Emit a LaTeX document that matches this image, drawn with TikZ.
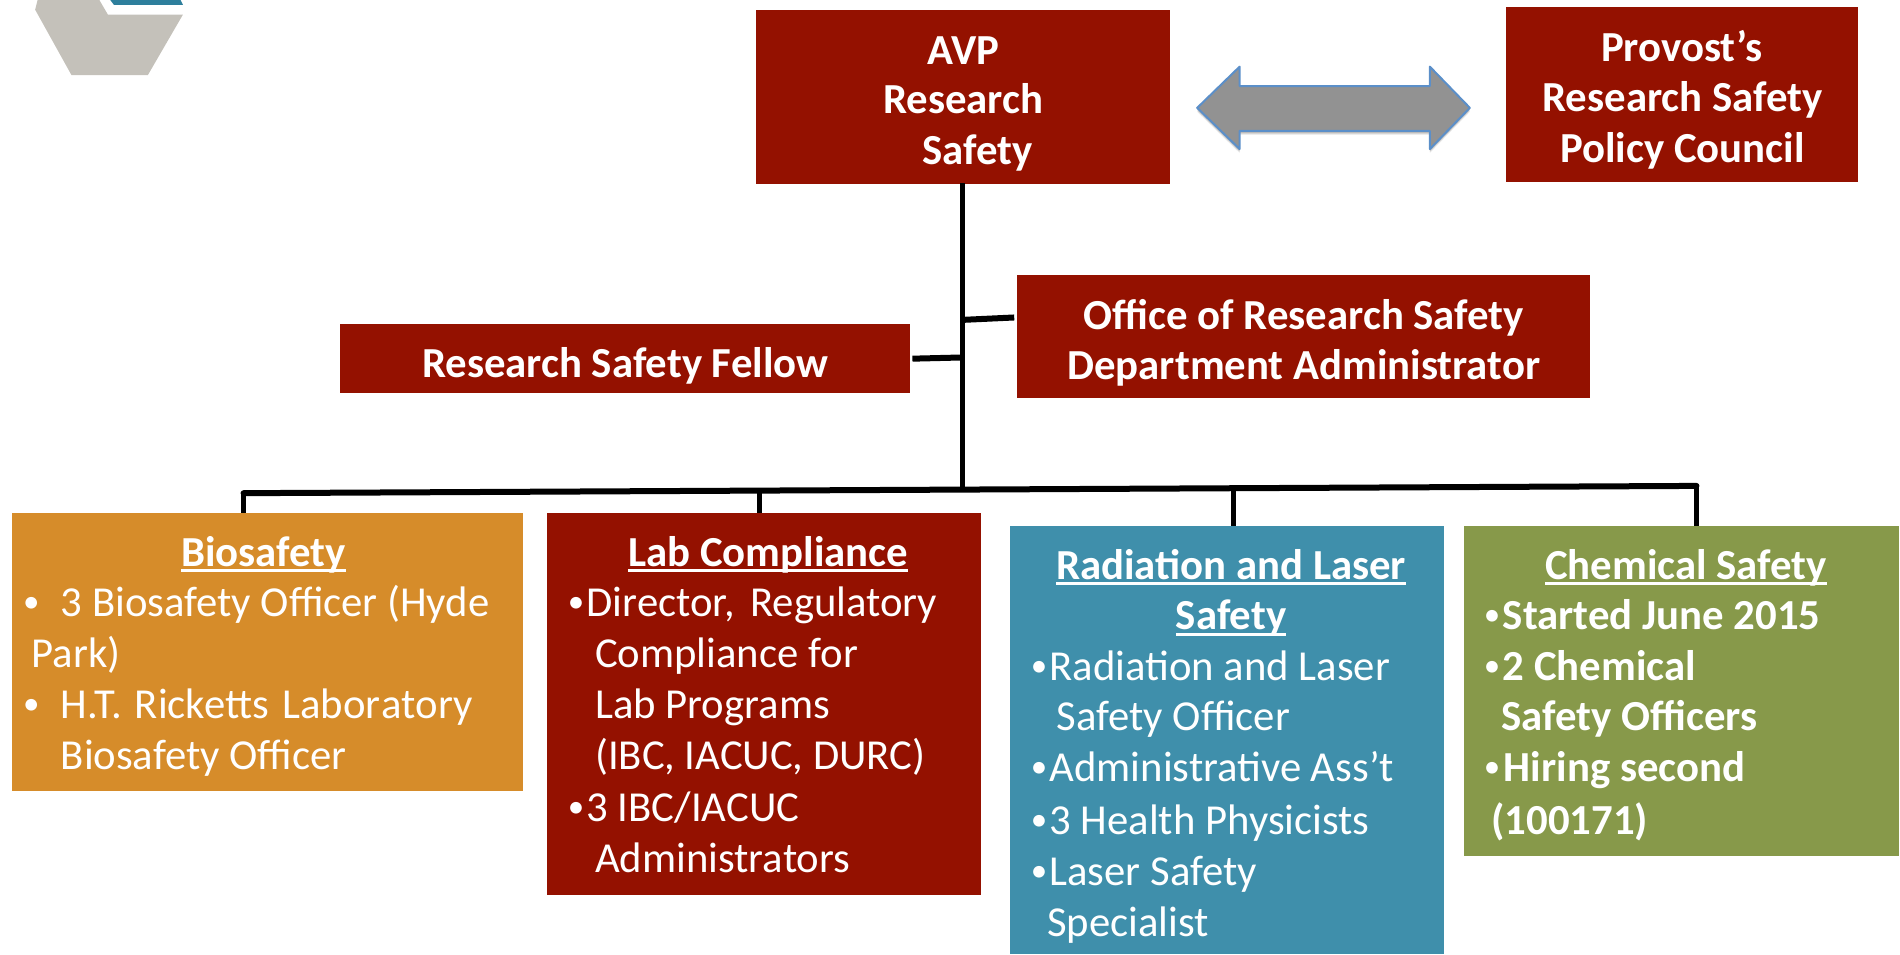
\documentclass[tikz,border=0pt]{standalone}
\usepackage{fontspec}
\setmainfont{Carlito}
\definecolor{crimson}{HTML}{941100}
\definecolor{amber}{HTML}{D68C2A}
\definecolor{teal}{HTML}{3F8FAB}
\definecolor{olive}{HTML}{87994A}
\definecolor{stone}{HTML}{C4C1BA}
\definecolor{logoblue}{HTML}{2E7F9C}
\definecolor{arrowgrey}{HTML}{929292}
\definecolor{arrowedge}{HTML}{5B8FC9}
\newsavebox{\ulbox}
\newcommand{\ult}[1]{\sbox{\ulbox}{#1}\rlap{\rule[-0.135em]{\wd\ulbox}{0.07em}}\usebox{\ulbox}}
\tikzset{
  panel/.style={fill=#1,draw=none},
  link/.style={line width=5pt,black,line cap=butt},
  txt/.style={text=white,inner sep=0pt,yshift=-1pt,font=\fontsize{42.7}{50}\selectfont},
  ctr/.style={txt,anchor=base},
  lft/.style={txt,anchor=base west},
  bctr/.style={ctr,font=\fontsize{42.8}{50}\selectfont\bfseries},
  blft/.style={lft,font=\fontsize{42.8}{50}\selectfont\bfseries},
  bul/.style={lft,font=\fontsize{33}{40}\selectfont,yshift=4.3pt},
}
\begin{document}
\begin{tikzpicture}[x=1.2117pt,y=-1.2117pt]
\useasboundingbox (0,0) rectangle (1568,787.3);
% logo
\fill[stone] (31,0) -- (29,8) -- (59,62) -- (122,62) -- (151,12) -- (89,12) -- (82,0) -- cycle;
\fill[logoblue] (91,0) -- (94,4) -- (151,4) -- (149,0) -- cycle;
% boxes
\path[panel=crimson] (624,8) rectangle (965.3,151.6);
\path[panel=crimson] (1243,6) rectangle (1533,150.3);
\path[panel=crimson] (280.3,267) rectangle (751.3,324.3);
\path[panel=crimson] (839,227) rectangle (1312,328.5);
\path[panel=amber] (10,423) rectangle (432,653);
\path[panel=crimson] (451.3,423) rectangle (809.4,738.3);
\path[panel=teal] (833.4,434) rectangle (1191.4,787.3);
\path[panel=olive] (1208,434) rectangle (1567,706.4);
\coordinate (avpS) at (794,151);
\coordinate (busC) at (794,404);
\coordinate (busL) at (201,407);
\coordinate (busR) at (1400,401);
\coordinate (d1) at (201,423);
\coordinate (b2) at (627,405.5);
\coordinate (d2) at (627,423);
\coordinate (b3) at (1018,403);
\coordinate (d3) at (1018,434);
\coordinate (d4) at (1400,434);
\coordinate (orsL) at (837,262);
\coordinate (orsJ) at (794,264);
\coordinate (felR) at (753,296);
\coordinate (felJ) at (794,295);
% connectors
\draw[link] (avpS) -- (busC);
\draw[link,line width=6pt,line cap=round] (busL) -- (busR);
\draw[link] (busL) -- (d1);
\draw[link] (b2) -- (d2);
\draw[link] (b3) -- (d3);
\draw[link] (busR) -- (d4);
\draw[link,line width=6pt] (orsJ) -- (orsL);
\draw[link,line width=6pt] (felR) -- (felJ);
% double arrow
\foreach \o/\a in {1/0.12,2/0.12,3/0.10,4/0.07}{
  \fill[black,opacity=\a,yshift=-\o pt] (988,89) -- (1023,55) -- (1023,71) -- (1180,71) -- (1180,55) -- (1213,89) -- (1180,123) -- (1180,108) -- (1023,108) -- (1023,123) -- cycle;
}
\draw[fill=arrowgrey,draw=arrowedge,line width=2pt,line join=round] (988,89) -- (1023,55) -- (1023,71) -- (1180,71) -- (1180,55) -- (1213,89) -- (1180,123) -- (1180,108) -- (1023,108) -- (1023,123) -- cycle;
% top text
\node[bctr] (avp1) at (795,52) {AVP};
\node[bctr] (avp2) at (795,93) {Research};
\node[bctr] (avp3) at (806.5,135) {Safety};
\node[bctr] (pr1) at (1388,50) {Provost’s};
\node[bctr] (pr2) at (1388.5,91) {Research Safety};
\node[bctr] (pr3) at (1388.5,133) {Policy Council};
\node[bctr] (fel) at (516,310.5) {Research Safety Fellow};
\node[bctr] (or1) at (1076,271) {Office of Research Safety};
\node[bctr] (or2) at (1076,312.5) {Department Administrator};
% biosafety
\node[bctr] (bt) at (217.5,466.5) {\ult{Biosafety}};
\node[bul] (bb1) at (19,508) {•};
\node[lft] (b1) at (50,508) {3 Biosafety Officer (Hyde};
\node[lft] (b2t) at (26,550) {Park)};
\node[bul] (bb2) at (19,592) {•};
\node[lft] (b3t) at (50,592) {H.T.\hspace{3pt} Ricketts\hspace{4pt} Labor\hspace{1pt}atory};
\node[lft] (b4t) at (50,634) {Biosafety Officer};
% lab
\node[bctr] (lt) at (634,466.5) {\ult{Lab Compliance}};
\node[bul] (lb1) at (468.5,508) {•};
\node[lft] (l1) at (484,508) {Director,\hspace{6pt} Regulatory};
\node[lft] (l2) at (491,550) {Compliance for};
\node[lft] (l3) at (491,592) {Lab Programs};
\node[lft] (l4) at (491,634) {(IBC, IACUC, DURC)};
\node[bul] (lb2) at (468.5,677) {•};
\node[lft] (l5) at (484,677) {3 IBC/IACUC};
\node[lft] (l6) at (491,719) {Administrators};
% radiation
\node[bctr] (rt1) at (1016,477) {\ult{Radiation and Laser}};
\node[bctr] (rt2) at (1016,519) {\ult{Safety}};
\node[bul] (rb1) at (850.5,561) {•};
\node[lft] (r1) at (866,561) {Radiation and Laser};
\node[lft] (r2) at (872,602) {Safety Officer};
\node[bul] (rb2) at (850.5,644) {•};
\node[lft] (r3) at (866,644) {Administrative Ass’t};
\node[bul] (rb3) at (850.5,688) {•};
\node[lft] (r4) at (866,688) {3 Health Physicists};
\node[bul] (rb4) at (850.5,730) {•};
\node[lft] (r5) at (866,730) {Laser Safety};
\node[lft] (r6) at (864,772) {Specialist};
% chemical
\node[bctr] (ct) at (1391.5,477) {\ult{Chemical Safety}};
\node[bul] (cb1) at (1224.5,519) {•};
\node[blft] (c1) at (1240,519) {Started June 2015};
\node[bul] (cb2) at (1224.5,561) {•};
\node[blft] (c2) at (1240,561) {2 Chemical};
\node[blft] (c3) at (1239,602) {Safety Officers};
\node[bul] (cb3) at (1224.5,644) {•};
\node[blft] (c4) at (1241,644) {Hiring second};
\node[blft] (c5) at (1230.5,688) {(100171)};
\end{tikzpicture}
\end{document}
